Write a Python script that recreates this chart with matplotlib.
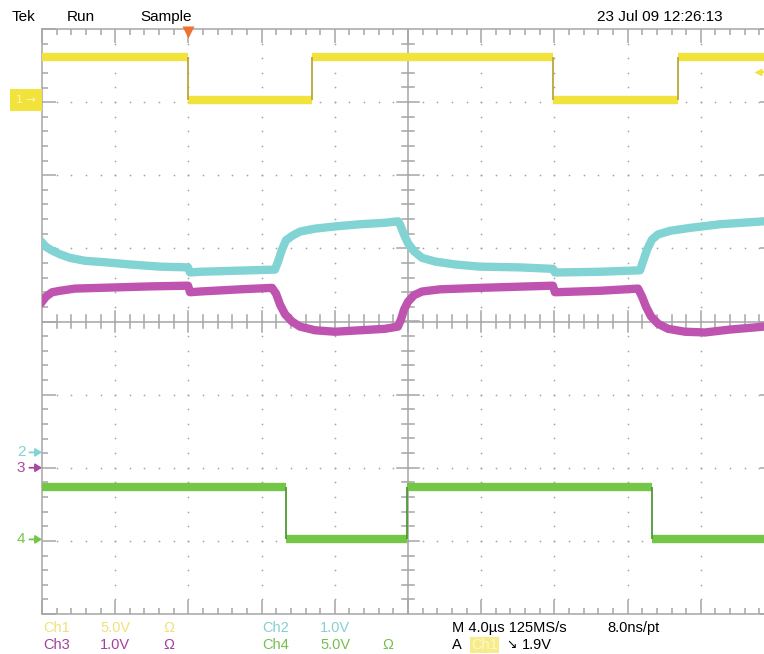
import matplotlib
matplotlib.use("Agg")
import matplotlib.pyplot as plt
import numpy as np
from matplotlib.ticker import MultipleLocator

# ---------------- data (time in µs, 4 µs/div; vertical in screen divisions) -------------
ch1_edges_us = [7.98, 14.75, 27.9, 34.75]
ch1_levels_div = [3.62, 3.03, 3.62, 3.03, 3.62]

ch4_edges_us = [13.33, 19.95, 33.33]
ch4_levels_div = [-2.27, -2.98, -2.27, -2.98]

ch2_t_us = [0.0, 0.22, 0.55, 0.98, 1.53, 2.35, 3.44, 4.81, 6.45, 7.98, 8.09, 8.63,
            12.73, 12.90, 13.11, 13.33, 13.66, 14.10, 14.92, 16.01, 17.38, 18.74, 19.45,
            19.56, 19.78, 20.0, 20.33, 20.77, 21.48, 22.57, 23.93, 26.12, 27.92, 28.03,
            30.49, 32.68, 32.84, 33.06, 33.33, 33.66, 34.32, 35.41, 37.05, 39.45, 40.0]
ch2_div = [1.08, 1.02, 0.97, 0.92, 0.87, 0.83, 0.81, 0.78, 0.75, 0.74, 0.67, 0.68,
           0.71, 0.82, 0.98, 1.11, 1.17, 1.23, 1.27, 1.30, 1.33, 1.35, 1.37,
           1.33, 1.19, 1.07, 0.96, 0.87, 0.82, 0.78, 0.75, 0.74, 0.72, 0.67,
           0.68, 0.70, 0.82, 0.98, 1.12, 1.19, 1.24, 1.28, 1.33, 1.37, 1.38]

ch3_t_us = [0.0, 0.22, 0.55, 0.98, 1.80, 3.17, 5.90, 7.98, 8.09, 8.63, 10.82, 12.57,
            12.79, 13.01, 13.28, 13.66, 14.10, 14.92, 16.01, 17.38, 18.74, 19.45, 19.62,
            19.78, 20.0, 20.33, 20.77, 21.75, 23.93, 27.92, 28.03, 30.49, 32.57, 32.79,
            33.01, 33.28, 33.66, 34.21, 35.14, 36.23, 37.60, 39.45, 40.0]
ch3_div = [0.27, 0.34, 0.40, 0.42, 0.45, 0.46, 0.48, 0.49, 0.40, 0.41, 0.44, 0.46,
           0.38, 0.23, 0.10, 0.00, -0.07, -0.12, -0.14, -0.12, -0.10, -0.07, 0.03,
           0.16, 0.27, 0.36, 0.41, 0.44, 0.46, 0.49, 0.40, 0.42, 0.45, 0.34,
           0.20, 0.07, -0.03, -0.10, -0.14, -0.15, -0.11, -0.07, -0.05]

ground_labels = ["1", "2", "3", "4"]
ground_div = [3.03, -1.79, -2.00, -2.98]
trigger_time_us = 8.0
trigger_level_div = 3.41

C1, C2, C3, C4 = "#F2E33C", "#82D3D3", "#BE54B0", "#74C646"
GRID = "#A6A6A6"

W, H = 764, 654
fig = plt.figure(figsize=(W / 100, H / 100), dpi=100)
fig.patch.set_facecolor("white")
ax = fig.add_axes([42 / W, 40 / H, 732 / W, 585 / H])
ax.set_xlim(0, 40)
ax.set_ylim(-4, 4)

# borders and ticks
for s in ax.spines.values():
    s.set_color(GRID)
    s.set_linewidth(1.1)
ax.xaxis.set_major_locator(MultipleLocator(4))
ax.xaxis.set_minor_locator(MultipleLocator(0.8))
ax.yaxis.set_major_locator(MultipleLocator(1))
ax.yaxis.set_minor_locator(MultipleLocator(0.2))
ax.tick_params(which="both", direction="in", top=True, right=True, bottom=True, left=True,
               labelbottom=False, labelleft=False, color=GRID, width=1.1)
ax.tick_params(which="major", length=10)
ax.tick_params(which="minor", length=4.3)

# dotted graticule
mx = np.arange(4, 40, 4)
mx = mx[mx != 20]
my = np.arange(-3, 4, 1)
my = my[my != 0]
minx = np.arange(0.8, 40, 0.8)
miny = np.arange(-3.8, 4, 0.2)
dx, dy = np.meshgrid(mx, miny)
ax.scatter(dx.ravel(), dy.ravel(), s=1.6, color=GRID, lw=0, zorder=1)
dx, dy = np.meshgrid(minx, my)
ax.scatter(dx.ravel(), dy.ravel(), s=1.6, color=GRID, lw=0, zorder=1)

# centre cross with ticks
ax.axhline(0, color=GRID, lw=1.1, zorder=1)
ax.axvline(20, color=GRID, lw=1.1, zorder=1)
for x in minx:
    h = 0.15 if abs(x / 4 - round(x / 4)) < 1e-6 else 0.085
    ax.plot([x, x], [-h, h], color=GRID, lw=1.1, zorder=1)
for y in miny:
    w = 0.6 if abs(y - round(y)) < 1e-6 else 0.33
    ax.plot([20 - w, 20 + w], [y, y], color=GRID, lw=1.1, zorder=1)

# waveforms
def step_trace(edges, levels, color, edgecolor):
    bounds = [0.0] + list(edges) + [40.0]
    ax.hlines(levels, bounds[:-1], bounds[1:], color=color, lw=6, zorder=3)
    ax.vlines(edges, levels[:-1], levels[1:], color=edgecolor, lw=1.3, zorder=3)

step_trace(ch1_edges_us, ch1_levels_div, C1, "#B8A83A")
step_trace(ch4_edges_us, ch4_levels_div, C4, "#4E9A34")
ax.plot(ch2_t_us, ch2_div, color=C2, lw=6, zorder=3, solid_joinstyle="round")
ax.plot(ch3_t_us, ch3_div, color=C3, lw=6, zorder=3, solid_joinstyle="round")

# trigger markers
ax.plot(trigger_time_us, 3.955, marker="v", ms=9, color="#F07232", mec="none",
        clip_on=False, zorder=5)
ax.plot(39.1, trigger_level_div, marker="<", ms=6, color=C1, mec="none", zorder=5)
ax.plot([39.1, 39.45], [trigger_level_div] * 2, color=C1, lw=1.5, zorder=5)

# ground reference markers
cols = [C1, C2, "#A848A0", C4]
for lab, lev, c in zip(ground_labels, ground_div, cols):
    if lab == "1":
        ax.annotate("1 \u2192", xy=(0, lev), xytext=(-16, 0), textcoords="offset pixels",
                    ha="center", va="center", fontsize=8, color="#FFF7B8",
                    annotation_clip=False, family="DejaVu Sans",
                    bbox=dict(boxstyle="square,pad=0.55", fc=C1, ec="none"))
    else:
        ax.annotate(lab, xy=(0, lev), xytext=(-21, 0), textcoords="offset pixels",
                    ha="center", va="center", fontsize=11, color=c,
                    annotation_clip=False, family="Liberation Sans",
                    arrowprops=dict(arrowstyle="-|>,head_length=0.35,head_width=0.22",
                                    color=c, lw=1.3, shrinkA=1, shrinkB=0))

# header / footer text
def ftext(xp, yp, s, color="black", size=11, **kw):
    fig.text(xp / W, 1 - yp / H, s, color=color, fontsize=size, va="center",
             family=["Liberation Sans", "DejaVu Sans"], **kw)

ftext(12, 17, "Tek")
ftext(67, 17, "Run")
ftext(140, 17, "Sample")
ftext(723, 17, "23 Jul 09 12:26:13", ha="right")

y1, y2 = 628, 645
fs = 10.5
ftext(43, y1, "Ch1", "#EEE27A", fs)
ftext(100, y1, "5.0V", "#EEE27A", fs)
ftext(163, y1, "\u03a9", "#EEE27A", fs)
ftext(262, y1, "Ch2", "#86CFCF", fs)
ftext(320, y1, "1.0V", "#86CFCF", fs)
ftext(452, y1, "M 4.0\u00b5s 125MS/s", "black", fs)
ftext(607, y1, "8.0ns/pt", "black", fs)
ftext(43, y2, "Ch3", "#A040A0", fs)
ftext(100, y2, "1.0V", "#A040A0", fs)
ftext(163, y2, "\u03a9", "#A040A0", fs)
ftext(262, y2, "Ch4", "#76BE4E", fs)
ftext(320, y2, "5.0V", "#76BE4E", fs)
ftext(382, y2, "\u03a9", "#76BE4E", fs)
ftext(452, y2, "A", "black", fs)
fig.text(471 / W, 1 - y2 / H, "Ch1", color="#FFF8C8", fontsize=fs, va="center",
         family="Liberation Sans",
         bbox=dict(boxstyle="square,pad=0.1", fc="#F6EC8A", ec="none"))
ftext(506, y2, "\u2198", "black", 9)
ftext(522, y2, "1.9V", "black", fs)

fig.savefig("out.png", dpi=100)
